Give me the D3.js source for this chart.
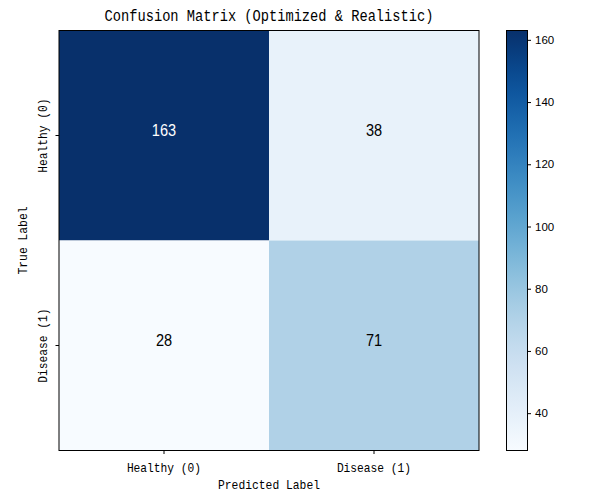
<!DOCTYPE html>
<html lang="en">
<head>
<meta charset="UTF-8">
<title>Confusion Matrix</title>
<script src="https://cdnjs.cloudflare.com/ajax/libs/d3/7.8.5/d3.min.js"></script>
<style>
    body { margin: 0; background: #fff; }
    svg { display: block; }
    .mono { font-family: "Liberation Mono", "DejaVu Sans Mono", monospace; fill: #000; }
    .sans { font-family: "Liberation Sans", Arial, sans-serif; fill: #000; }
</style>
</head>
<body>
<div id="chart"></div>
<script>
    // data
    const predLabels = ["Healthy (0)", "Disease (1)"];
    const trueLabels = ["Healthy (0)", "Disease (1)"];
    const counts = [
        [163, 38],
        [28, 71]
    ];
    const titleText = "Confusion Matrix (Optimized & Realistic)";

    const width = 600, height = 500;
    const plot = { left: 59, right: 479, top: 30.5, bottom: 450.5 };
    const bar = { left: 506.5, right: 527.5 };

    const svg = d3.select("#chart").append("svg")
        .attr("width", width).attr("height", height);

    const flat = counts.flat();
    const vmin = d3.min(flat), vmax = d3.max(flat);

    const x = d3.scaleBand().domain(d3.range(predLabels.length)).range([plot.left, plot.right]);
    const y = d3.scaleBand().domain(d3.range(trueLabels.length)).range([plot.top, plot.bottom]);
    const color = d3.scaleSequential(d3.interpolateBlues).domain([vmin, vmax]);

    // text squeezed to the half-width look of the original font
    function narrowText(sel, cls, txt, size, charW) {
        return sel.attr("class", cls)
            .style("font-size", size + "px")
            .attr("textLength", txt.length * charW)
            .attr("lengthAdjust", "spacingAndGlyphs")
            .text(txt);
    }
    const monoText = (sel, txt, size, charW) => narrowText(sel, "mono", txt, size, charW);

    // cells
    const cells = counts.flatMap((row, i) => row.map((v, j) => ({ i, j, v })));
    svg.append("g").selectAll("rect").data(cells).join("rect")
        .attr("x", d => x(d.j)).attr("y", d => y(d.i))
        .attr("width", x.bandwidth()).attr("height", y.bandwidth())
        .attr("fill", d => color(d.v));

    const numG = svg.append("g");
    cells.forEach(d => {
        const s = String(d.v);
        const cx = x(d.j) + x.bandwidth() / 2;
        narrowText(numG.append("text"), "sans", s, 17, 8.1)
            .attr("x", cx - s.length * 8.1 / 2)
            .attr("y", y(d.i) + y.bandwidth() / 2 + 0.5)
            .style("fill", d.v > (vmin + vmax) / 2 ? "#fff" : "#000");
    });

    // frame
    svg.append("rect")
        .attr("x", plot.left).attr("y", plot.top)
        .attr("width", plot.right - plot.left).attr("height", plot.bottom - plot.top)
        .attr("fill", "none").attr("stroke", "#000").attr("stroke-width", 1);

    // x ticks
    const xt = svg.append("g");
    predLabels.forEach((lab, j) => {
        const cx = x(j) + x.bandwidth() / 2;
        xt.append("line").attr("x1", cx).attr("x2", cx)
            .attr("y1", plot.bottom).attr("y2", plot.bottom + 3.5)
            .attr("stroke", "#000").attr("stroke-width", 1);
        monoText(xt.append("text"), lab, 13, 6.75)
            .attr("x", cx - lab.length * 6.75 / 2).attr("y", 472);
    });

    // y ticks
    const yt = svg.append("g");
    trueLabels.forEach((lab, i) => {
        const cy = y(i) + y.bandwidth() / 2;
        yt.append("line").attr("x1", plot.left - 3.5).attr("x2", plot.left)
            .attr("y1", cy).attr("y2", cy)
            .attr("stroke", "#000").attr("stroke-width", 1);
        monoText(yt.append("text"), lab, 13, 6.75)
            .attr("transform", `translate(47,${cy + lab.length * 6.75 / 2}) rotate(-90)`);
    });

    // axis labels and title
    const xl = "Predicted Label";
    monoText(svg.append("text"), xl, 13, 6.8)
        .attr("x", (plot.left + plot.right) / 2 - xl.length * 6.8 / 2).attr("y", 489);
    const yl = "True Label";
    monoText(svg.append("text"), yl, 13, 6.8)
        .attr("transform", `translate(27,${(plot.top + plot.bottom) / 2 + yl.length * 6.8 / 2}) rotate(-90)`);
    monoText(svg.append("text"), titleText, 16, 8.22)
        .attr("x", (plot.left + plot.right) / 2 - titleText.length * 8.22 / 2).attr("y", 21);

    // colorbar
    const cb = d3.scaleLinear().domain([vmin, vmax]).range([plot.bottom, plot.top]);
    const grad = svg.append("defs").append("linearGradient")
        .attr("id", "cbgrad").attr("x1", 0).attr("x2", 0).attr("y1", 1).attr("y2", 0);
    d3.range(0, 1.0001, 0.05).forEach(t => {
        grad.append("stop").attr("offset", t).attr("stop-color", d3.interpolateBlues(t));
    });
    svg.append("rect")
        .attr("x", bar.left).attr("y", plot.top)
        .attr("width", bar.right - bar.left).attr("height", plot.bottom - plot.top)
        .attr("fill", "url(#cbgrad)").attr("stroke", "#000").attr("stroke-width", 1);

    const cbAxis = d3.axisRight(cb).ticks(6).tickSize(3.5).tickPadding(4);
    const cbg = svg.append("g").attr("transform", `translate(${bar.right},0)`).call(cbAxis);
    cbg.select(".domain").remove();
    cbg.selectAll("text").attr("class", "sans")
        .style("font-size", "11.5px").attr("fill", "#000")
        .style("font-family", "'Liberation Sans', Arial, sans-serif");
    cbg.selectAll("line").attr("stroke", "#000");
</script>
</body>
</html>
